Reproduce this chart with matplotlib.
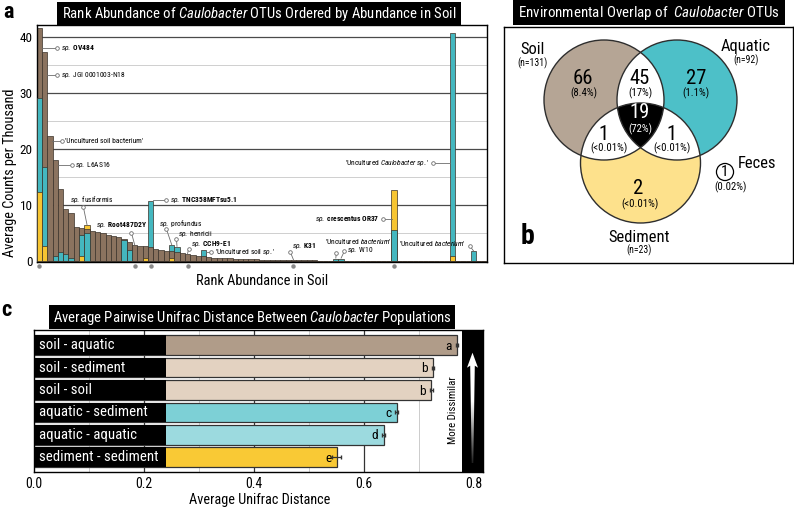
import numpy as np
import matplotlib
matplotlib.use('Agg')
import matplotlib.pyplot as plt
from matplotlib import font_manager
from matplotlib.patches import Rectangle, Circle, Polygon
from matplotlib.colors import LinearSegmentedColormap

candidates = ['Roboto Condensed', 'Liberation Sans Narrow', 'Open Sans Condensed',
              'Noto Sans Condensed', 'Lato', 'Roboto', 'DejaVu Sans']
avail = {f.name for f in font_manager.fontManager.ttflist}
FONT = next(f for f in candidates if f in avail)
plt.rcParams['font.family'] = [FONT, 'DejaVu Sans']
plt.rcParams['mathtext.fontset'] = 'custom'
plt.rcParams['mathtext.rm'] = FONT
plt.rcParams['mathtext.it'] = FONT + ':italic'
plt.rcParams['mathtext.bf'] = FONT + ':bold'

# ---------------- data: panel a (rank abundance) ----------------
soil = [41.7, 37.3, 22.3, 18.1, 12.8, 9.3, 8.5, 6.0, 5.8, 5.7,
        5.3, 5.2, 5.0, 4.6, 4.4, 4.2, 3.9, 3.4, 2.8, 2.7,
        2.6, 2.5, 2.2, 2.0, 1.8, 1.7, 1.6, 1.4, 1.2, 1.0,
        0.9, 0.8, 0.7, 0.6, 0.55, 0.5, 0.45, 0.4, 0.35, 0.3,
        0.28, 0.25, 0.22, 0.2, 0.18, 0.16, 0.14, 0.12, 0.1, 0.1,
        0.08, 0.08, 0.07, 0.06, 0.06, 0.05, 0.05, 0.04, 0.04, 0.03,
        0.03, 0.03, 0.02, 0.02, 0.02, 0.01, 0.01, 0, 0, 0,
        0, 0, 0, 0, 0, 0, 0, 0, 0, 0,
        0, 0, 0, 0, 0]
aquatic = [29.2, 16.8, 0, 0.9, 1.6, 1.3, 0.6, 0, 4.6, 4.9,
           0, 0, 0, 0, 0, 0, 3.8, 1.9, 0, 0,
           0, 10.8, 0, 0, 0, 2.8, 2.5, 0, 0, 0,
           0, 2.0, 0, 0, 0, 0, 0, 0, 0, 0,
           0, 0, 0, 0, 0, 0, 0, 0, 0, 0,
           0, 0, 0, 0, 0, 0, 0.4, 0.4, 0, 0,
           0, 0, 0, 0, 0, 0, 0, 5.5, 0, 0,
           0, 0, 0, 0, 0, 0, 0, 0, 40.7, 0,
           0, 0, 1.7, 0, 0]
sediment = [12.4, 2.6, 0, 0, 0, 0, 0, 0, 0.9, 6.4,
            0, 0, 0, 0, 0, 0, 0, 0, 0, 0,
            0.6, 0, 0, 0, 0, 0.5, 0, 0, 0, 0,
            0, 0, 0, 0, 0, 0, 0, 0, 0, 0,
            0, 0, 0, 0, 0, 0, 0, 0, 0, 0,
            0, 0, 0, 0, 0, 0, 0, 0, 0, 0,
            0, 0, 0, 0, 0, 0, 0, 12.7, 0, 0,
            0, 0, 0, 0, 0, 0, 0, 0, 0.9, 0,
            0, 0, 0, 0, 0]
marked_otus = [0, 18, 21, 28, 48, 67]
y_ticks_a = [0, 10, 20, 30, 40]

# ---------------- data: panel b (venn) ----------------
venn_counts = {'S': 66, 'A': 27, 'D': 2, 'SA': 45, 'SD': 1, 'AD': 1, 'SAD': 19}
venn_pcts = {'S': '(8.4%)', 'A': '(1.1%)', 'D': '(<0.01%)', 'SA': '(17%)',
             'SD': '(<0.01%)', 'AD': '(<0.01%)', 'SAD': '(72%)'}
env_names = ['Soil', 'Aquatic', 'Sediment']
env_n = [131, 92, 23]
feces_count, feces_pct = 1, '(0.02%)'

# ---------------- data: panel c (unifrac) ----------------
pairs = ['soil - aquatic', 'soil - sediment', 'soil - soil',
         'aquatic - sediment', 'aquatic - aquatic', 'sediment - sediment']
unifrac = [0.769, 0.725, 0.722, 0.659, 0.635, 0.550]
unifrac_err = [0.002, 0.002, 0.002, 0.003, 0.002, 0.008]
sig_letters = ['a', 'b', 'b', 'c', 'd', 'e']
x_ticks_c = [0.0, 0.2, 0.4, 0.6, 0.8]

C_SOIL = '#8b735f'
C_AQ = '#44b7bf'
C_SED = '#f7c532'
EDGE = '#3a3129'

W, H = 794, 508
fig = plt.figure(figsize=(W / 100, H / 100), dpi=100)
RND = fig.canvas.get_renderer()


def fx(px):
    return px / W


def fy(py):
    return 1 - py / H


def fit(t, target, dim='w'):
    bb = t.get_window_extent(RND)
    cur = bb.width if dim == 'w' else bb.height
    if cur > 0:
        t.set_fontsize(t.get_fontsize() * target / cur)
    return t.get_fontsize()


def probe_size(text, width, start=10):
    t = fig.text(0, 0, text, fontsize=start)
    s = fit(t, width)
    t.remove()
    return s


def title_box(x0, x1, y0, y1, text, width):
    fig.patches.append(Rectangle((fx(x0), fy(y1)), fx(x1) - fx(x0), fy(y0) - fy(y1),
                                 transform=fig.transFigure, facecolor='black',
                                 edgecolor='none', zorder=5))
    t = fig.text(fx((x0 + x1) / 2), fy((y0 + y1) / 2 + 0.5), text, color='white',
                 ha='center', va='center', fontsize=12, zorder=6)
    fit(t, width)
    return t


ANN = probe_size(r'$\mathit{sp.}$ JGI 0001003-N18', 64)
PAIR = probe_size('sediment - sediment', 107) * 1.1
NAME = probe_size('Aquatic', 42) * 1.18
PCT = probe_size('(<0.01%)', 37)
NN = probe_size('(n=131)', 30)
TICK = probe_size('0.0', 13)
BIG = probe_size('66', 20)

# ======================= panel a =======================
ax = fig.add_axes([fx(36.7), fy(262), fx(486.7) - fx(36.7), fy(25) - fy(262)])
n = len(soil)
x = np.arange(n)
vals = np.vstack([soil, aquatic, sediment])
cols = np.array([C_SOIL, C_AQ, C_SED])
order = np.argsort(-vals, axis=0, kind='stable')
for layer in range(3):
    ax.bar(x, vals[order[layer], x], width=1.0, color=cols[order[layer]],
           edgecolor=EDGE, linewidth=0.5, zorder=2 + layer)
ax.set_xlim(-0.5, n - 0.5)
ax.set_ylim(-0.2, 42.2)
for v in [10, 20, 30, 40]:
    ax.axhline(v, color='#4a4a4a', lw=0.9, zorder=1)
for v in [5, 15, 25, 35]:
    ax.axhline(v, color='#cfcfcf', lw=0.7, zorder=1)
ax.set_xticks([])
ax.set_yticks(y_ticks_a)
ax.tick_params(axis='y', length=0, labelsize=TICK * 1.25, pad=3)
for s in ax.spines.values():
    s.set_linewidth(1.0)
    s.set_color('black')
ax.plot(marked_otus, [-0.9] * len(marked_otus), 'o', ms=2.2, color='#8a8a8a',
        clip_on=False, zorder=6)

t = fig.text(fx(10), fy(173), 'Average Counts per Thousand', rotation=90, ha='center',
             va='center', fontsize=11)
t.set_fontsize(fit(t, 153, 'h') * 1.1)
t = fig.text(fx(262), fy(281), 'Rank Abundance in Soil', ha='center', va='center', fontsize=11)
t.set_fontsize(fit(t, 121) * 1.1)
fig.text(fx(9), fy(12), 'a', ha='center', va='center', fontsize=16, fontweight='bold')
title_box(57, 461, 2, 25, r'Rank Abundance of $\mathit{Caulobacter}$ OTUs Ordered by Abundance in Soil', 394)

top_vals = vals.max(axis=0)
LC = '#6d6d6d'


def side_label(text, bar, y, cx, side, bold=False):
    if side == 'right':
        x0 = bar + 0.45
        tx, ha = cx + 0.7, 'left'
    else:
        x0 = bar - 0.45
        tx, ha = cx - 0.7, 'right'
    ax.plot([x0, cx], [y, y], color=LC, lw=0.6, zorder=7)
    ax.plot([cx], [y], 'o', ms=2.6, mfc='white', mec=LC, mew=0.6, zorder=8)
    ax.text(tx, y, text, ha=ha, va='center', fontsize=ANN,
            fontweight='bold' if bold else 'normal', zorder=8)


def top_label(text, bar, cx, cy, tx, ty, ha='left', bold=False):
    ax.plot([bar, cx], [top_vals[bar] + 0.1, cy], color=LC, lw=0.6, zorder=7)
    ax.plot([cx], [cy], 'o', ms=2.6, mfc='white', mec=LC, mew=0.6, zorder=8)
    ax.text(tx, ty, text, ha=ha, va='center', fontsize=ANN,
            fontweight='bold' if bold else 'normal', zorder=8)


side_label(r'$\mathit{sp.}$ OV484', 0, 38.1, 3.3, 'right', bold=True)
side_label(r'$\mathit{sp.}$ JGI 0001003-N18', 1, 33.2, 3.3, 'right')
side_label("'Uncultured soil bacterium'", 2, 21.4, 4.2, 'right')
side_label(r'$\mathit{sp.}$ L6AS16', 3, 17.1, 6.1, 'right')
top_label(r'$\mathit{sp.}$ fusiformis', 9, 8.3, 9.7, 9.9, 10.9, ha='center')
top_label(r'$\mathit{sp.}$ Root487D2Y', 18, 17.4, 5.0, 10.7, 6.5, bold=True)
side_label(r'$\mathit{sp.}$ TNC358MFTsu5.1', 21, 10.9, 23.9, 'right', bold=True)
top_label(r'$\mathit{sp.}$ profundus', 25, 24.0, 5.7, 26.7, 6.7, ha='center')
top_label(r'$\mathit{sp.}$ henricii', 26, 25.9, 3.9, 26.2, 4.85)
top_label(r'$\mathit{sp.}$ CCH9-E1', 28, 28.2, 2.2, 28.6, 3.0, bold=True)
side_label(r"'Uncultured soil $\mathit{sp.}$'", 31, 1.6, 32.4, 'right')
top_label(r'$\mathit{sp.}$ K31', 48, 47.4, 1.6, 47.8, 2.6, bold=True)
top_label(r"'Uncultured $\mathit{bacterium}$'", 56, 56.1, 1.45, 53.9, 3.4)
top_label(r'$\mathit{sp.}$ W10', 57, 57.6, 1.7, 58.1, 1.9)
side_label(r'$\mathit{sp.}$ crescentus OR37', 67, 7.5, 64.9, 'left', bold=True)
side_label(r"'Uncultured $\mathit{Caulobacter\ sp.}$'", 78, 17.6, 74.3, 'left')
top_label(r"'Uncultured $\mathit{bacterium}$'", 82, 81.3, 2.7, 68.0, 3.1)

# ======================= panel b =======================
axb = fig.add_axes([fx(504), fy(263.3), fx(793) - fx(504), fy(26.7) - fy(263.3)])
axb.set_xlim(504, 793)
axb.set_ylim(263.3, 26.7)
axb.set_xticks([])
axb.set_yticks([])
for s in axb.spines.values():
    s.set_linewidth(1.0)
    s.set_color('black')
R = 60
centers = [np.array([604.0, 100.0]), np.array([677.0, 100.0]), np.array([640.5, 163.0])]
fills = ['#b5a595', '#4dc0c8', '#fde18c']
for c, col in zip(centers, fills):
    axb.add_patch(Circle(c, R, facecolor=col, edgecolor='none', zorder=1))
for i in range(3):
    for j in range(i + 1, 3):
        p = Circle(centers[i], R, facecolor='white', edgecolor='none', zorder=2)
        axb.add_patch(p)
        p.set_clip_path(Circle(centers[j], R, transform=axb.transData))
pts = []
th = np.linspace(0, 2 * np.pi, 3000)
for i in range(3):
    p = centers[i][None, :] + R * np.column_stack([np.cos(th), np.sin(th)])
    m = np.ones(len(th), bool)
    for j in range(3):
        if j != i:
            m &= np.hypot(*(p - centers[j]).T) <= R + 1e-6
    pts.append(p[m])
pts = np.vstack(pts)
cen = np.mean(centers, axis=0)
pts = pts[np.argsort(np.arctan2(pts[:, 1] - cen[1], pts[:, 0] - cen[0]))]
axb.add_patch(Polygon(pts, closed=True, facecolor='black', edgecolor='none', zorder=3))
for c in centers:
    axb.add_patch(Circle(c, R, fill=False, edgecolor='#2e2e2e', lw=1.0, zorder=4))

region_pos = {'S': (583, 78.5), 'SA': (640, 78.5), 'A': (696.5, 78.5), 'SAD': (640, 113),
              'SD': (604, 134), 'AD': (671, 134), 'D': (638.5, 188)}
pct_pos = {'S': (584, 93), 'SA': (640, 93), 'A': (696, 93), 'SAD': (640, 129),
           'SD': (609, 148), 'AD': (672.5, 148), 'D': (640, 204)}
for k, (px, py) in region_pos.items():
    col = 'white' if k == 'SAD' else 'black'
    axb.text(px, py, str(venn_counts[k]), ha='center', va='center', fontsize=BIG,
             color=col, zorder=6)
    axb.text(*pct_pos[k], venn_pcts[k], ha='center', va='center', fontsize=PCT,
             color=col, zorder=6)

name_pos = [(533, 50), (746, 47), (639, 237)]
for (px, py), nm, nn in zip(name_pos, env_names, env_n):
    axb.text(px, py, nm, ha='center', va='center', fontsize=NAME, zorder=6)
    axb.text(px, py + 13.5, f'(n={nn})', ha='center', va='center', fontsize=NN, zorder=6)
axb.text(757, 164, 'Feces', ha='center', va='center', fontsize=NAME, zorder=6)
axb.text(725, 172, str(feces_count), ha='center', va='center', fontsize=BIG * 0.75, zorder=6,
         bbox=dict(boxstyle='circle,pad=0.1', fc='white', ec='black', lw=0.9))
axb.text(731, 187, feces_pct, ha='center', va='center', fontsize=PCT, zorder=6)
axb.text(527, 236, 'b', ha='center', va='center', fontsize=20, fontweight='bold', zorder=6)
title_box(513, 785, 0, 25, r'Environmental Overlap of  $\mathit{Caulobacter}$ OTUs', 262)

# ======================= panel c =======================
axc = fig.add_axes([fx(34.3), fy(471.7), fx(483.3) - fx(34.3), fy(330) - fy(471.7)])
xmax = (483.3 - 34.3) / 550
axc.set_xlim(0, xmax)
axc.set_ylim(-0.64, 5.67)
ypos = np.arange(len(pairs))[::-1]
bar_cols = ['#b09c89', '#e3d2c1', '#e3d2c1', '#7dd0d6', '#9cdadf', '#f9c935']
for k in range(1, 8):
    v = k / 10
    major = k % 2 == 0
    axc.axvline(v, color='#333333' if major else '#cccccc', lw=0.9 if major else 0.7, zorder=0)
axc.barh(ypos, unifrac, height=0.88, color=bar_cols, edgecolor='#333333', linewidth=0.9,
         zorder=2)
axc.errorbar(unifrac, ypos, xerr=unifrac_err, fmt='none', ecolor='#333333', elinewidth=0.9,
             capsize=1.5, zorder=3)
axc.barh(ypos, [0.239] * len(pairs), height=0.88, color='black', edgecolor='none', zorder=4)
for yy, lab, d, let in zip(ypos, pairs, unifrac, sig_letters):
    axc.text(0.009, yy, lab, color='white', ha='left', va='center', fontsize=PAIR, zorder=5)
    axc.text(d - 0.016, yy - 0.05, let, ha='center', va='center', fontsize=PAIR * 0.9,
             zorder=5)
axc.set_xticks(x_ticks_c)
axc.set_xticklabels([f'{t:.1f}' for t in x_ticks_c])
axc.set_yticks([])
axc.tick_params(axis='x', length=0, labelsize=TICK * 1.3, pad=4)
for s in axc.spines.values():
    s.set_linewidth(1.0)
    s.set_color('black')
x_box0 = (461.7 - 34.3) / 550
axc.add_patch(Rectangle((x_box0, 0), xmax - x_box0, 1, transform=axc.get_xaxis_transform(),
                        facecolor='black', edgecolor='none', zorder=6, clip_on=False))
t = axc.text((453 - 34.3) / 550, 2.1, 'More Dissimilar', rotation=90, ha='center',
             va='center', fontsize=10, zorder=6)
t.set_fontsize(fit(t, 62, 'h') * 1.08)
t = fig.text(fx(260), fy(500), 'Average Unifrac Distance', ha='center', va='center',
             fontsize=11)
t.set_fontsize(fit(t, 128) * 1.1)
fig.text(fx(6), fy(310), 'c', ha='center', va='center', fontsize=16, fontweight='bold')
title_box(49.3, 455, 305, 329.3,
          r'Average Pairwise Unifrac Distance Between $\mathit{Caulobacter}$ Populations', 398)

# gradient arrow
axa = fig.add_axes([fx(461.7), fy(471.7), fx(483.3) - fx(461.7), fy(330) - fy(471.7)])
axa.set_xlim(0, 21.6)
axa.set_ylim(0, 141.7)
axa.axis('off')
cxm = 10.8
arrow = Polygon([[cxm - 0.8, 8.7], [cxm + 0.8, 8.7], [cxm + 2.3, 106], [cxm + 5.5, 104],
                 [cxm, 119], [cxm - 5.5, 104], [cxm - 2.3, 106]], closed=True,
                facecolor='none', edgecolor='none', transform=axa.transData)
axa.add_patch(arrow)
grad = np.linspace(0, 1, 256)[:, None]
cmap = LinearSegmentedColormap.from_list('bw', ['black', 'white', 'white'])
im = axa.imshow(grad, extent=[0, 21.6, 0, 141.7], origin='lower', cmap=cmap, aspect='auto',
                zorder=2)
im.set_clip_path(arrow)

fig.savefig('out.png', dpi=100)
